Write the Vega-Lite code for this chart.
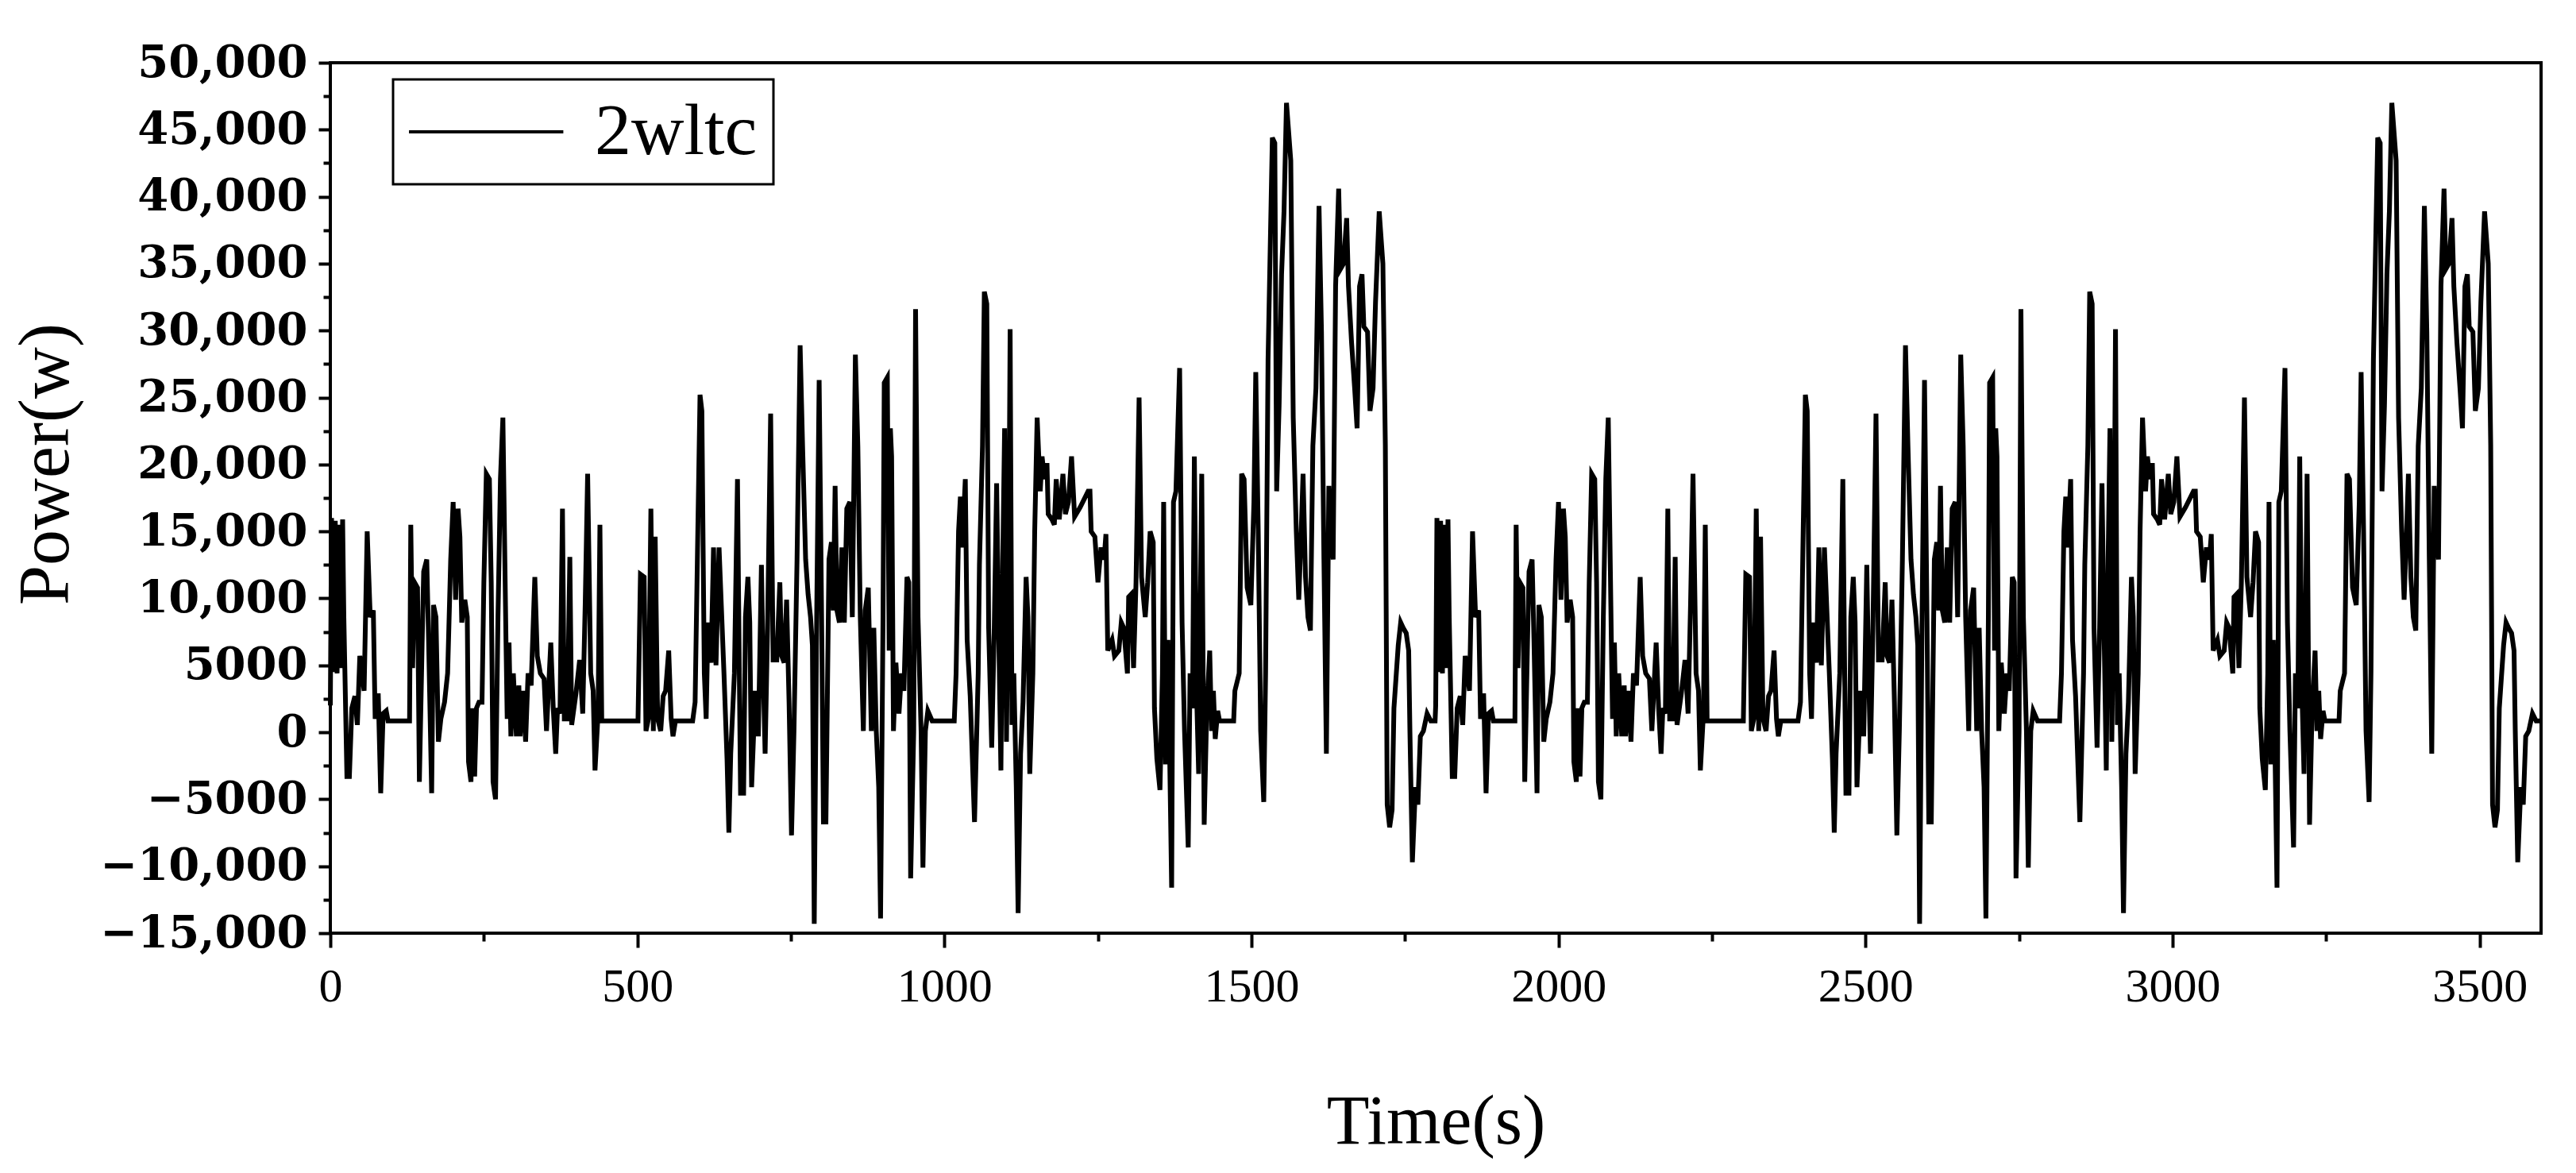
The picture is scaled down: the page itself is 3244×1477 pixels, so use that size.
{
"$schema": "https://vega.github.io/schema/vega-lite/v6.json",
"width": 2784, "height": 1096,
"autosize": {"type": "none"},
"padding": {"left": 416, "top": 79, "right": 44, "bottom": 302},
"background": "white",
"config": {"view": {"stroke": "black", "strokeWidth": 4}, "axis": {"domain": false, "grid": false, "tickColor": "black", "tickWidth": 4, "labelColor": "black", "titleColor": "black", "labelLimit": 0}},
"data": {"values": [
{"t":0,"p":2000},{"t":2,"p":16000},{"t":5,"p":4500},{"t":8,"p":15800},{"t":11,"p":4400},{"t":14,"p":15500},{"t":17,"p":4800},{"t":20,"p":15900},{"t":22,"p":8600},{"t":27,"p":-3300},{"t":31,"p":-3300},{"t":35,"p":1800},{"t":40,"p":2700},{"t":44,"p":550},{"t":48,"p":5700},{"t":55,"p":3100},{"t":60,"p":15000},{"t":65,"p":8600},{"t":70,"p":9100},{"t":73,"p":1000},{"t":78,"p":2900},{"t":82,"p":-4550},{"t":86,"p":1400},{"t":91,"p":1600},{"t":94,"p":850},{"t":129,"p":850},{"t":131,"p":15500},{"t":134,"p":4800},{"t":137,"p":11200},{"t":142,"p":10800},{"t":145,"p":-3700},{"t":150,"p":7800},{"t":152,"p":12000},{"t":157,"p":12900},{"t":160,"p":6900},{"t":165,"p":-4550},{"t":168,"p":9500},{"t":172,"p":8600},{"t":176,"p":-700},{"t":180,"p":1000},{"t":186,"p":2250},{"t":191,"p":4400},{"t":196,"p":12900},{"t":200,"p":17200},{"t":204,"p":9900},{"t":208,"p":16700},{"t":211,"p":14600},{"t":214,"p":8200},{"t":219,"p":9900},{"t":223,"p":8600},{"t":225,"p":-2200},{"t":229,"p":-3700},{"t":232,"p":1800},{"t":235,"p":-3300},{"t":238,"p":1800},{"t":242,"p":2250},{"t":247,"p":2250},{"t":250,"p":11200},{"t":254,"p":19300},{"t":259,"p":18900},{"t":262,"p":11200},{"t":265,"p":-3700},{"t":269,"p":-5000},{"t":273,"p":8600},{"t":277,"p":18900},{"t":281,"p":23500},{"t":286,"p":6900},{"t":288,"p":1000},{"t":291,"p":6700},{"t":294,"p":-300},{"t":298,"p":4400},{"t":303,"p":-300},{"t":307,"p":3500},{"t":309,"p":-300},{"t":314,"p":3100},{"t":318,"p":-700},{"t":322,"p":4400},{"t":327,"p":3500},{"t":333,"p":11600},{"t":337,"p":5700},{"t":342,"p":4400},{"t":348,"p":4000},{"t":352,"p":100},{"t":359,"p":6700},{"t":363,"p":1800},{"t":367,"p":-1600},{"t":370,"p":1800},{"t":374,"p":1400},{"t":378,"p":16700},{"t":381,"p":1000},{"t":386,"p":1000},{"t":390,"p":13100},{"t":393,"p":550},{"t":400,"p":2900},{"t":406,"p":5400},{"t":411,"p":1400},{"t":415,"p":9500},{"t":419,"p":19300},{"t":424,"p":4400},{"t":428,"p":3100},{"t":431,"p":-2850},{"t":436,"p":1400},{"t":439,"p":15500},{"t":442,"p":850},{"t":501,"p":850},{"t":505,"p":11800},{"t":511,"p":11600},{"t":514,"p":100},{"t":518,"p":1000},{"t":522,"p":16700},{"t":526,"p":100},{"t":529,"p":14600},{"t":533,"p":1000},{"t":538,"p":100},{"t":542,"p":2700},{"t":546,"p":3100},{"t":551,"p":6100},{"t":555,"p":1000},{"t":558,"p":-300},{"t":562,"p":850},{"t":590,"p":850},{"t":594,"p":2250},{"t":598,"p":13800},{"t":602,"p":25200},{"t":605,"p":24000},{"t":607,"p":14000},{"t":609,"p":4400},{"t":612,"p":1000},{"t":615,"p":8200},{"t":620,"p":5200},{"t":624,"p":13800},{"t":628,"p":5000},{"t":633,"p":13800},{"t":637,"p":9100},{"t":641,"p":4400},{"t":646,"p":-2000},{"t":649,"p":-7500},{"t":652,"p":-1600},{"t":658,"p":4400},{"t":663,"p":18900},{"t":666,"p":4400},{"t":668,"p":-4550},{"t":673,"p":-4550},{"t":676,"p":8600},{"t":680,"p":11600},{"t":683,"p":8200},{"t":686,"p":-4100},{"t":692,"p":3100},{"t":697,"p":-300},{"t":702,"p":12500},{"t":705,"p":4400},{"t":708,"p":-1600},{"t":712,"p":7800},{"t":717,"p":23800},{"t":721,"p":5400},{"t":727,"p":5400},{"t":732,"p":11200},{"t":735,"p":5700},{"t":739,"p":5200},{"t":743,"p":9900},{"t":747,"p":2250},{"t":751,"p":-7700},{"t":755,"p":100},{"t":760,"p":12900},{"t":765,"p":28900},{"t":769,"p":21400},{"t":774,"p":12900},{"t":778,"p":10300},{"t":782,"p":8600},{"t":785,"p":6500},{"t":788,"p":-14300},{"t":792,"p":8600},{"t":796,"p":26300},{"t":800,"p":8600},{"t":803,"p":-6700},{"t":807,"p":-6700},{"t":812,"p":12900},{"t":816,"p":14200},{"t":819,"p":9100},{"t":822,"p":18400},{"t":825,"p":9100},{"t":829,"p":8200},{"t":833,"p":13800},{"t":837,"p":8200},{"t":841,"p":16700},{"t":846,"p":17200},{"t":850,"p":8600},{"t":855,"p":28200},{"t":859,"p":21400},{"t":863,"p":8600},{"t":868,"p":100},{"t":871,"p":9100},{"t":876,"p":10800},{"t":881,"p":100},{"t":885,"p":7800},{"t":889,"p":100},{"t":893,"p":-4100},{"t":896,"p":-13900},{"t":900,"p":8600},{"t":902,"p":26100},{"t":907,"p":26500},{"t":910,"p":6100},{"t":912,"p":22700},{"t":914,"p":20600},{"t":917,"p":100},{"t":921,"p":5200},{"t":926,"p":1400},{"t":930,"p":4400},{"t":934,"p":3100},{"t":939,"p":11600},{"t":942,"p":11200},{"t":945,"p":-10900},{"t":950,"p":100},{"t":953,"p":31600},{"t":957,"p":8600},{"t":962,"p":100},{"t":965,"p":-10100},{"t":969,"p":100},{"t":973,"p":1600},{"t":980,"p":850},{"t":1016,"p":850},{"t":1019,"p":4400},{"t":1023,"p":15000},{"t":1026,"p":17600},{"t":1029,"p":13800},{"t":1034,"p":18900},{"t":1037,"p":6900},{"t":1042,"p":2700},{"t":1049,"p":-6700},{"t":1055,"p":4400},{"t":1057,"p":12500},{"t":1062,"p":21400},{"t":1065,"p":32900},{"t":1069,"p":32000},{"t":1072,"p":7800},{"t":1077,"p":-1150},{"t":1081,"p":7400},{"t":1085,"p":18600},{"t":1088,"p":8600},{"t":1092,"p":-2850},{"t":1095,"p":12900},{"t":1098,"p":22700},{"t":1101,"p":-700},{"t":1105,"p":15000},{"t":1107,"p":30100},{"t":1110,"p":550},{"t":1113,"p":4400},{"t":1117,"p":-4100},{"t":1120,"p":-13500},{"t":1124,"p":-1600},{"t":1128,"p":2250},{"t":1133,"p":11600},{"t":1136,"p":8600},{"t":1139,"p":-3100},{"t":1144,"p":4400},{"t":1147,"p":15000},{"t":1151,"p":23500},{"t":1156,"p":18000},{"t":1159,"p":20600},{"t":1163,"p":18900},{"t":1167,"p":20100},{"t":1169,"p":16300},{"t":1175,"p":15900},{"t":1179,"p":15500},{"t":1182,"p":18900},{"t":1187,"p":15900},{"t":1193,"p":19300},{"t":1197,"p":16300},{"t":1202,"p":17200},{"t":1207,"p":20600},{"t":1212,"p":16100},{"t":1221,"p":16800},{"t":1234,"p":18000},{"t":1237,"p":18000},{"t":1239,"p":15000},{"t":1245,"p":14600},{"t":1250,"p":11200},{"t":1255,"p":13800},{"t":1260,"p":12900},{"t":1263,"p":14800},{"t":1266,"p":6100},{"t":1273,"p":6900},{"t":1277,"p":5700},{"t":1284,"p":6100},{"t":1288,"p":8200},{"t":1292,"p":7800},{"t":1298,"p":4400},{"t":1300,"p":10100},{"t":1304,"p":10300},{"t":1308,"p":4800},{"t":1312,"p":11200},{"t":1317,"p":25000},{"t":1321,"p":11600},{"t":1327,"p":8600},{"t":1331,"p":11200},{"t":1335,"p":15000},{"t":1340,"p":14200},{"t":1342,"p":1800},{"t":1346,"p":-2000},{"t":1351,"p":-4300},{"t":1355,"p":4400},{"t":1357,"p":17200},{"t":1360,"p":-2400},{"t":1364,"p":6900},{"t":1370,"p":-11600},{"t":1373,"p":17200},{"t":1377,"p":18000},{"t":1383,"p":27200},{"t":1387,"p":8200},{"t":1391,"p":100},{"t":1397,"p":-8600},{"t":1400,"p":4400},{"t":1404,"p":1800},{"t":1407,"p":20600},{"t":1411,"p":2250},{"t":1414,"p":-3100},{"t":1419,"p":19300},{"t":1423,"p":-6900},{"t":1427,"p":1400},{"t":1432,"p":6100},{"t":1435,"p":100},{"t":1438,"p":3100},{"t":1441,"p":-500},{"t":1445,"p":1600},{"t":1448,"p":850},{"t":1471,"p":850},{"t":1473,"p":3100},{"t":1480,"p":4400},{"t":1484,"p":19300},{"t":1488,"p":18900},{"t":1493,"p":10800},{"t":1499,"p":9500},{"t":1504,"p":17200},{"t":1507,"p":26900},{"t":1511,"p":15000},{"t":1515,"p":100},{"t":1520,"p":-5200},{"t":1523,"p":4400},{"t":1527,"p":27800},{"t":1534,"p":44400},{"t":1538,"p":44000},{"t":1541,"p":18000},{"t":1545,"p":24400},{"t":1549,"p":34200},{"t":1553,"p":38900},{"t":1557,"p":47000},{"t":1564,"p":42700},{"t":1568,"p":23500},{"t":1573,"p":15000},{"t":1577,"p":9900},{"t":1581,"p":15000},{"t":1584,"p":19300},{"t":1588,"p":11600},{"t":1592,"p":8600},{"t":1596,"p":7600},{"t":1600,"p":21400},{"t":1605,"p":25700},{"t":1610,"p":39300},{"t":1614,"p":29900},{"t":1618,"p":12900},{"t":1622,"p":-1600},{"t":1626,"p":18400},{"t":1630,"p":14600},{"t":1633,"p":12900},{"t":1637,"p":33300},{"t":1642,"p":40600},{"t":1645,"p":34600},{"t":1650,"p":35000},{"t":1655,"p":38400},{"t":1658,"p":33300},{"t":1663,"p":29100},{"t":1668,"p":25700},{"t":1672,"p":22700},{"t":1676,"p":33300},{"t":1680,"p":34200},{"t":1683,"p":30300},{"t":1689,"p":29900},{"t":1693,"p":24000},{"t":1698,"p":25700},{"t":1702,"p":32100},{"t":1708,"p":38900},{"t":1714,"p":35000},{"t":1718,"p":21400},{"t":1721,"p":-5400},{"t":1725,"p":-7100},{"t":1729,"p":-5800},{"t":1732,"p":1800},{"t":1739,"p":6500},{"t":1743,"p":8200},{"t":1747,"p":7800},{"t":1752,"p":7400},{"t":1756,"p":6100},{"t":1758,"p":100},{"t":1762,"p":-9700},{"t":1767,"p":-4100},{"t":1771,"p":-5400},{"t":1775,"p":-300},{"t":1780,"p":100},{"t":1786,"p":1400},{"t":1792,"p":850},{"t":1799,"p":850},
{"t":1800,"p":2000},{"t":1802,"p":16000},{"t":1805,"p":4500},{"t":1808,"p":15800},{"t":1811,"p":4400},{"t":1814,"p":15500},{"t":1817,"p":4800},{"t":1820,"p":15900},{"t":1822,"p":8600},{"t":1827,"p":-3300},{"t":1831,"p":-3300},{"t":1835,"p":1800},{"t":1840,"p":2700},{"t":1844,"p":550},{"t":1848,"p":5700},{"t":1855,"p":3100},{"t":1860,"p":15000},{"t":1865,"p":8600},{"t":1870,"p":9100},{"t":1873,"p":1000},{"t":1878,"p":2900},{"t":1882,"p":-4550},{"t":1886,"p":1400},{"t":1891,"p":1600},{"t":1894,"p":850},{"t":1929,"p":850},{"t":1931,"p":15500},{"t":1934,"p":4800},{"t":1937,"p":11200},{"t":1942,"p":10800},{"t":1945,"p":-3700},{"t":1950,"p":7800},{"t":1952,"p":12000},{"t":1957,"p":12900},{"t":1960,"p":6900},{"t":1965,"p":-4550},{"t":1968,"p":9500},{"t":1972,"p":8600},{"t":1976,"p":-700},{"t":1980,"p":1000},{"t":1986,"p":2250},{"t":1991,"p":4400},{"t":1996,"p":12900},{"t":2000,"p":17200},{"t":2004,"p":9900},{"t":2008,"p":16700},{"t":2011,"p":14600},{"t":2014,"p":8200},{"t":2019,"p":9900},{"t":2023,"p":8600},{"t":2025,"p":-2200},{"t":2029,"p":-3700},{"t":2032,"p":1800},{"t":2035,"p":-3300},{"t":2038,"p":1800},{"t":2042,"p":2250},{"t":2047,"p":2250},{"t":2050,"p":11200},{"t":2054,"p":19300},{"t":2059,"p":18900},{"t":2062,"p":11200},{"t":2065,"p":-3700},{"t":2069,"p":-5000},{"t":2073,"p":8600},{"t":2077,"p":18900},{"t":2081,"p":23500},{"t":2086,"p":6900},{"t":2088,"p":1000},{"t":2091,"p":6700},{"t":2094,"p":-300},{"t":2098,"p":4400},{"t":2103,"p":-300},{"t":2107,"p":3500},{"t":2109,"p":-300},{"t":2114,"p":3100},{"t":2118,"p":-700},{"t":2122,"p":4400},{"t":2127,"p":3500},{"t":2133,"p":11600},{"t":2137,"p":5700},{"t":2142,"p":4400},{"t":2148,"p":4000},{"t":2152,"p":100},{"t":2159,"p":6700},{"t":2163,"p":1800},{"t":2167,"p":-1600},{"t":2170,"p":1800},{"t":2174,"p":1400},{"t":2178,"p":16700},{"t":2181,"p":1000},{"t":2186,"p":1000},{"t":2190,"p":13100},{"t":2193,"p":550},{"t":2200,"p":2900},{"t":2206,"p":5400},{"t":2211,"p":1400},{"t":2215,"p":9500},{"t":2219,"p":19300},{"t":2224,"p":4400},{"t":2228,"p":3100},{"t":2231,"p":-2850},{"t":2236,"p":1400},{"t":2239,"p":15500},{"t":2242,"p":850},{"t":2301,"p":850},{"t":2305,"p":11800},{"t":2311,"p":11600},{"t":2314,"p":100},{"t":2318,"p":1000},{"t":2322,"p":16700},{"t":2326,"p":100},{"t":2329,"p":14600},{"t":2333,"p":1000},{"t":2338,"p":100},{"t":2342,"p":2700},{"t":2346,"p":3100},{"t":2351,"p":6100},{"t":2355,"p":1000},{"t":2358,"p":-300},{"t":2362,"p":850},{"t":2390,"p":850},{"t":2394,"p":2250},{"t":2398,"p":13800},{"t":2402,"p":25200},{"t":2405,"p":24000},{"t":2407,"p":14000},{"t":2409,"p":4400},{"t":2412,"p":1000},{"t":2415,"p":8200},{"t":2420,"p":5200},{"t":2424,"p":13800},{"t":2428,"p":5000},{"t":2433,"p":13800},{"t":2437,"p":9100},{"t":2441,"p":4400},{"t":2446,"p":-2000},{"t":2449,"p":-7500},{"t":2452,"p":-1600},{"t":2458,"p":4400},{"t":2463,"p":18900},{"t":2466,"p":4400},{"t":2468,"p":-4550},{"t":2473,"p":-4550},{"t":2476,"p":8600},{"t":2480,"p":11600},{"t":2483,"p":8200},{"t":2486,"p":-4100},{"t":2492,"p":3100},{"t":2497,"p":-300},{"t":2502,"p":12500},{"t":2505,"p":4400},{"t":2508,"p":-1600},{"t":2512,"p":7800},{"t":2517,"p":23800},{"t":2521,"p":5400},{"t":2527,"p":5400},{"t":2532,"p":11200},{"t":2535,"p":5700},{"t":2539,"p":5200},{"t":2543,"p":9900},{"t":2547,"p":2250},{"t":2551,"p":-7700},{"t":2555,"p":100},{"t":2560,"p":12900},{"t":2565,"p":28900},{"t":2569,"p":21400},{"t":2574,"p":12900},{"t":2578,"p":10300},{"t":2582,"p":8600},{"t":2585,"p":6500},{"t":2588,"p":-14300},{"t":2592,"p":8600},{"t":2596,"p":26300},{"t":2600,"p":8600},{"t":2603,"p":-6700},{"t":2607,"p":-6700},{"t":2612,"p":12900},{"t":2616,"p":14200},{"t":2619,"p":9100},{"t":2622,"p":18400},{"t":2625,"p":9100},{"t":2629,"p":8200},{"t":2633,"p":13800},{"t":2637,"p":8200},{"t":2641,"p":16700},{"t":2646,"p":17200},{"t":2650,"p":8600},{"t":2655,"p":28200},{"t":2659,"p":21400},{"t":2663,"p":8600},{"t":2668,"p":100},{"t":2671,"p":9100},{"t":2676,"p":10800},{"t":2681,"p":100},{"t":2685,"p":7800},{"t":2689,"p":100},{"t":2693,"p":-4100},{"t":2696,"p":-13900},{"t":2700,"p":8600},{"t":2702,"p":26100},{"t":2707,"p":26500},{"t":2710,"p":6100},{"t":2712,"p":22700},{"t":2714,"p":20600},{"t":2717,"p":100},{"t":2721,"p":5200},{"t":2726,"p":1400},{"t":2730,"p":4400},{"t":2734,"p":3100},{"t":2739,"p":11600},{"t":2742,"p":11200},{"t":2745,"p":-10900},{"t":2750,"p":100},{"t":2753,"p":31600},{"t":2757,"p":8600},{"t":2762,"p":100},{"t":2765,"p":-10100},{"t":2769,"p":100},{"t":2773,"p":1600},{"t":2780,"p":850},{"t":2816,"p":850},{"t":2819,"p":4400},{"t":2823,"p":15000},{"t":2826,"p":17600},{"t":2829,"p":13800},{"t":2834,"p":18900},{"t":2837,"p":6900},{"t":2842,"p":2700},{"t":2849,"p":-6700},{"t":2855,"p":4400},{"t":2857,"p":12500},{"t":2862,"p":21400},{"t":2865,"p":32900},{"t":2869,"p":32000},{"t":2872,"p":7800},{"t":2877,"p":-1150},{"t":2881,"p":7400},{"t":2885,"p":18600},{"t":2888,"p":8600},{"t":2892,"p":-2850},{"t":2895,"p":12900},{"t":2898,"p":22700},{"t":2901,"p":-700},{"t":2905,"p":15000},{"t":2907,"p":30100},{"t":2910,"p":550},{"t":2913,"p":4400},{"t":2917,"p":-4100},{"t":2920,"p":-13500},{"t":2924,"p":-1600},{"t":2928,"p":2250},{"t":2933,"p":11600},{"t":2936,"p":8600},{"t":2939,"p":-3100},{"t":2944,"p":4400},{"t":2947,"p":15000},{"t":2951,"p":23500},{"t":2956,"p":18000},{"t":2959,"p":20600},{"t":2963,"p":18900},{"t":2967,"p":20100},{"t":2969,"p":16300},{"t":2975,"p":15900},{"t":2979,"p":15500},{"t":2982,"p":18900},{"t":2987,"p":15900},{"t":2993,"p":19300},{"t":2997,"p":16300},{"t":3002,"p":17200},{"t":3007,"p":20600},{"t":3012,"p":16100},{"t":3021,"p":16800},{"t":3034,"p":18000},{"t":3037,"p":18000},{"t":3039,"p":15000},{"t":3045,"p":14600},{"t":3050,"p":11200},{"t":3055,"p":13800},{"t":3060,"p":12900},{"t":3063,"p":14800},{"t":3066,"p":6100},{"t":3073,"p":6900},{"t":3077,"p":5700},{"t":3084,"p":6100},{"t":3088,"p":8200},{"t":3092,"p":7800},{"t":3098,"p":4400},{"t":3100,"p":10100},{"t":3104,"p":10300},{"t":3108,"p":4800},{"t":3112,"p":11200},{"t":3117,"p":25000},{"t":3121,"p":11600},{"t":3127,"p":8600},{"t":3131,"p":11200},{"t":3135,"p":15000},{"t":3140,"p":14200},{"t":3142,"p":1800},{"t":3146,"p":-2000},{"t":3151,"p":-4300},{"t":3155,"p":4400},{"t":3157,"p":17200},{"t":3160,"p":-2400},{"t":3164,"p":6900},{"t":3170,"p":-11600},{"t":3173,"p":17200},{"t":3177,"p":18000},{"t":3183,"p":27200},{"t":3187,"p":8200},{"t":3191,"p":100},{"t":3197,"p":-8600},{"t":3200,"p":4400},{"t":3204,"p":1800},{"t":3207,"p":20600},{"t":3211,"p":2250},{"t":3214,"p":-3100},{"t":3219,"p":19300},{"t":3223,"p":-6900},{"t":3227,"p":1400},{"t":3232,"p":6100},{"t":3235,"p":100},{"t":3238,"p":3100},{"t":3241,"p":-500},{"t":3245,"p":1600},{"t":3248,"p":850},{"t":3271,"p":850},{"t":3273,"p":3100},{"t":3280,"p":4400},{"t":3284,"p":19300},{"t":3288,"p":18900},{"t":3293,"p":10800},{"t":3299,"p":9500},{"t":3304,"p":17200},{"t":3307,"p":26900},{"t":3311,"p":15000},{"t":3315,"p":100},{"t":3320,"p":-5200},{"t":3323,"p":4400},{"t":3327,"p":27800},{"t":3334,"p":44400},{"t":3338,"p":44000},{"t":3341,"p":18000},{"t":3345,"p":24400},{"t":3349,"p":34200},{"t":3353,"p":38900},{"t":3357,"p":47000},{"t":3364,"p":42700},{"t":3368,"p":23500},{"t":3373,"p":15000},{"t":3377,"p":9900},{"t":3381,"p":15000},{"t":3384,"p":19300},{"t":3388,"p":11600},{"t":3392,"p":8600},{"t":3396,"p":7600},{"t":3400,"p":21400},{"t":3405,"p":25700},{"t":3410,"p":39300},{"t":3414,"p":29900},{"t":3418,"p":12900},{"t":3422,"p":-1600},{"t":3426,"p":18400},{"t":3430,"p":14600},{"t":3433,"p":12900},{"t":3437,"p":33300},{"t":3442,"p":40600},{"t":3445,"p":34600},{"t":3450,"p":35000},{"t":3455,"p":38400},{"t":3458,"p":33300},{"t":3463,"p":29100},{"t":3468,"p":25700},{"t":3472,"p":22700},{"t":3476,"p":33300},{"t":3480,"p":34200},{"t":3483,"p":30300},{"t":3489,"p":29900},{"t":3493,"p":24000},{"t":3498,"p":25700},{"t":3502,"p":32100},{"t":3508,"p":38900},{"t":3514,"p":35000},{"t":3518,"p":21400},{"t":3521,"p":-5400},{"t":3525,"p":-7100},{"t":3529,"p":-5800},{"t":3532,"p":1800},{"t":3539,"p":6500},{"t":3543,"p":8200},{"t":3547,"p":7800},{"t":3552,"p":7400},{"t":3556,"p":6100},{"t":3558,"p":100},{"t":3562,"p":-9700},{"t":3567,"p":-4100},{"t":3571,"p":-5400},{"t":3575,"p":-300},{"t":3580,"p":100},{"t":3586,"p":1400},{"t":3592,"p":850},{"t":3600,"p":850}
]},
"layer": [
{"mark": {"type": "line", "strokeWidth": 6},
 "encoding": {
  "x": {"field": "t", "type": "quantitative", "scale": {"domain": [0, 3600], "nice": false, "zero": false},
        "axis": {"orient": "bottom", "values": [0,500,1000,1500,2000,2500,3000,3500], "format": "d", "tickSize": 18, "labelFont": "Liberation Serif", "labelFontSize": 60, "labelPadding": 20, "labelFlush": false, "title": "Time(s)", "titleFont": "Liberation Serif", "titleFontSize": 88, "titleFontWeight": "normal", "titleY": 238, "titleBaseline": "middle"}},
  "y": {"field": "p", "type": "quantitative", "scale": {"domain": [-15000, 50000], "nice": false, "zero": false},
        "axis": {"orient": "left", "values": [-15000,-10000,-5000,0,5000,10000,15000,20000,25000,30000,35000,40000,45000,50000], "labelExpr": "abs(datum.value) >= 10000 ? format(datum.value, ',') : format(datum.value, 'd')", "tickSize": 15, "labelFont": "DejaVu Serif", "labelFontSize": 56, "labelFontWeight": "bold", "labelPadding": 14, "labelFlush": false, "labelLimit": 0, "title": "Power(w)", "titleFont": "Liberation Serif", "titleFontSize": 90, "titleFontWeight": "normal", "titleX": -358, "titleY": 505, "titleAngle": -90, "titleAlign": "center", "titleBaseline": "middle"}},
  "color": {"datum": "2wltc", "scale": {"range": ["#000000"]},
            "legend": {"orient": "none", "legendX": 79, "legendY": 21, "title": null, "symbolType": "M-1.3,0H4.2", "symbolSize": 4994, "symbolStrokeWidth": 4, "symbolStrokeColor": "black", "symbolFillColor": "transparent", "labelFont": "Liberation Serif", "labelFontSize": 92, "labelColor": "black", "labelLimit": 0, "labelOffset": 142, "padding": 20, "strokeColor": "black", "fillColor": "white",
                       "encode": {"legend": {"update": {"strokeWidth": {"value": 3}}}}}}
 }},
{"mark": {"type": "point", "opacity": 0},
 "encoding": {
  "x": {"datum": 0, "type": "quantitative", "axis": {"orient": "bottom", "values": [250,750,1250,1750,2250,2750,3250], "tickSize": 10, "labels": false, "title": null}},
  "y": {"datum": 0, "type": "quantitative", "axis": {"orient": "left", "values": [-12500,-7500,-2500,2500,7500,12500,17500,22500,27500,32500,37500,42500,47500], "tickSize": 9, "labels": false, "title": null}}
 }}
],
"resolve": {"axis": {"x": "independent", "y": "independent"}}
}
